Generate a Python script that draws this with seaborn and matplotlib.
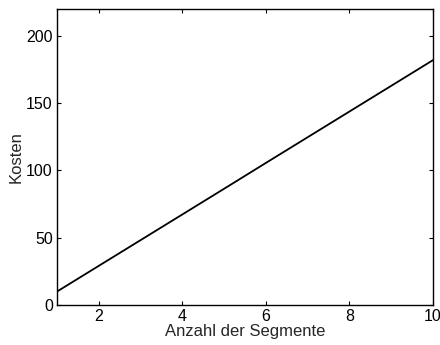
import matplotlib
matplotlib.use("Agg")
import matplotlib.pyplot as plt
import seaborn as sns
import pandas as pd

segmente = [1, 2, 3, 4, 5, 6, 7, 8, 9, 10]
kosten = [10.0, 29.1, 48.2, 67.3, 86.4, 105.6, 124.7, 143.8, 162.9, 182.0]
xticks = [2, 4, 6, 8, 10]
yticks = [0, 50, 100, 150, 200]

sns.set_style("ticks")
plt.rcParams['font.family'] = ['Liberation Sans', 'DejaVu Sans']

df = pd.DataFrame({"Anzahl der Segmente": segmente, "Kosten": kosten})

fig = plt.figure(figsize=(4.4, 3.45), dpi=100)
ax = fig.add_axes([57/440, 40/345, 376/440, 296/345])
sns.lineplot(data=df, x="Anzahl der Segmente", y="Kosten", ax=ax,
             color="black", linewidth=1.3)
ax.set_xlim(1, 10)
ax.set_ylim(0, 220)
ax.set_xticks(xticks)
ax.set_yticks(yticks)
ax.tick_params(direction="in", length=3, width=0.8, top=True, right=True,
               labelsize=11.5, colors="black", pad=3)
for s in ax.spines.values():
    s.set_visible(True)
    s.set_linewidth(1.0)
    s.set_color("black")
ax.set_xlabel("Anzahl der Segmente", fontsize=12, labelpad=0)
ax.set_ylabel("Kosten", fontsize=12, labelpad=2)
fig.savefig("out.png", dpi=100)
